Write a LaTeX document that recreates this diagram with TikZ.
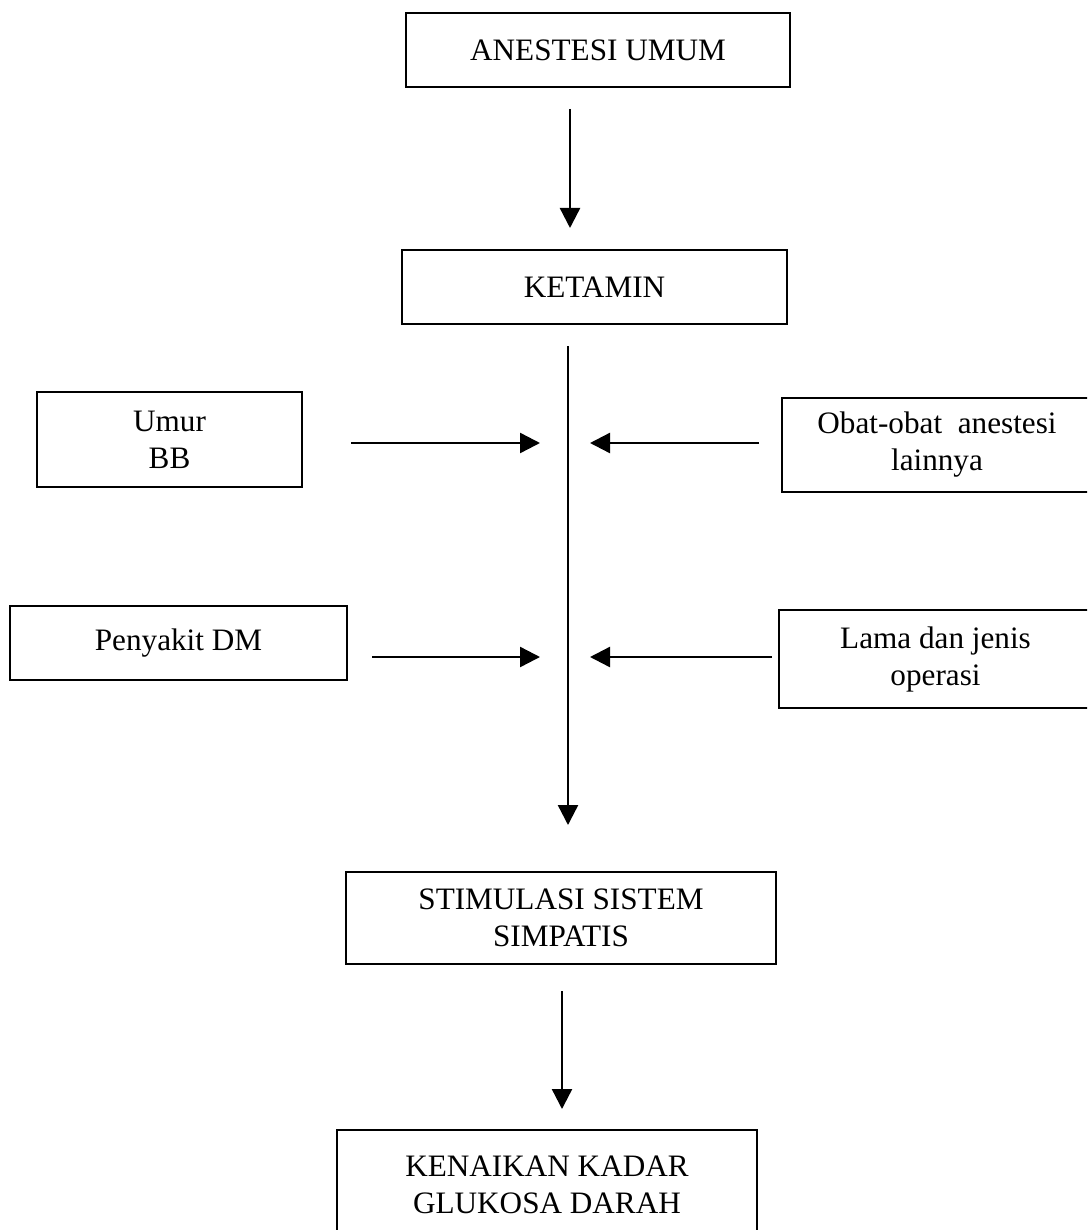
\documentclass[tikz,border=0pt]{standalone}
\usepackage{fontspec}
\setmainfont{Liberation Serif}
\usetikzlibrary{arrows.meta,calc}
\begin{document}
\begin{tikzpicture}[x=0.5pt,y=-0.5pt,
  box/.style={draw, line width=1pt, rectangle, align=center, inner sep=0pt,
    font=\fontsize{15.6}{18.5}\selectfont},
  arr/.style={line width=1.2pt, -{Triangle[length=10pt,width=10pt]}}]
\useasboundingbox (0,0) rectangle (1087,1230);
\clip (0,0) rectangle (1087,1230);
% boxes
\node[box, minimum width=192pt, minimum height=37pt] (top) at (598,50) {ANESTESI UMUM};
\node[box, minimum width=192.5pt, minimum height=37pt] (ket) at (594.5,287) {KETAMIN};
\node[box, minimum width=132.5pt, minimum height=47.5pt] (umur) at (169.5,439.5) {Umur\\BB};
\node[box, minimum width=155pt, minimum height=47pt] (obat) at (937,445) {Obat-obat~~anestesi\\lainnya};
\node[box, minimum width=168.5pt, minimum height=37pt] (dm) at (178.5,643) {\raisebox{3.5pt}{Penyakit DM}};
\node[box, minimum width=156.5pt, minimum height=49pt] (lama) at (935.5,659) {Lama dan jenis\\operasi};
\node[box, minimum width=215pt, minimum height=46pt] (stim) at (561,918) {STIMULASI SISTEM\\SIMPATIS};
\node[box, minimum width=210pt, minimum height=55pt] (glu) at (547,1185) {KENAIKAN KADAR\\GLUKOSA DARAH};
% reference coordinates
\coordinate (c1) at (570,0);
\coordinate (c2) at (568,0);
\coordinate (c3) at (562,0);
\coordinate (j1) at (568,443);
\coordinate (j2) at (568,657);
% connectors
\draw[arr, shorten <=10.5pt, shorten >=10.5pt] (top.south -| c1) -- (ket.north -| c1);
\draw[arr, shorten <=10.5pt, shorten >=23pt] (ket.south -| c2) -- (stim.north -| c2);
\draw[arr, shorten <=13pt, shorten >=10pt] (stim.south -| c3) -- (glu.north -| c3);
\draw[arr, shorten <=24pt, shorten >=14pt] (umur.east |- j1) -- (j1);
\draw[arr, shorten <=11pt, shorten >=11pt] (obat.west |- j1) -- (j1);
\draw[arr, shorten <=12pt, shorten >=14pt] (dm.east |- j2) -- (j2);
\draw[arr, shorten <=3pt, shorten >=11pt] (lama.west |- j2) -- (j2);
\end{tikzpicture}
\end{document}
